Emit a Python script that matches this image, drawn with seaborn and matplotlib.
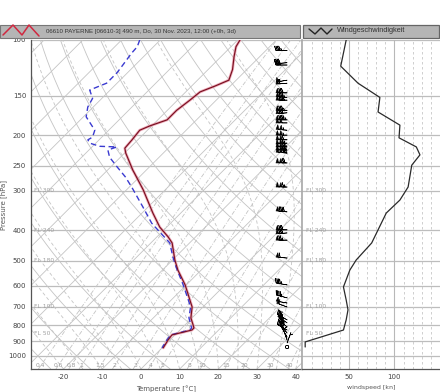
import numpy as np
import pandas as pd
import matplotlib
matplotlib.use("Agg")
import matplotlib.pyplot as plt
import matplotlib.transforms as mtransforms
from matplotlib.patches import Rectangle
from matplotlib.lines import Line2D
from matplotlib.ticker import NullLocator
import seaborn as sns

# ── sounding values ──────────────────────────────────────────────────────────
temp_p = [100, 105, 113, 124, 134, 140, 146, 155, 167, 179, 187, 193, 207, 220,
          228, 258, 298, 353, 391, 420, 439, 497, 535, 596, 665, 700, 758, 798,
          816, 828, 858, 890, 943]
temp_t = [-59.4, -58.7, -56.6, -53.7, -51.9, -54.0, -56.3, -56.8, -57.6, -57.6,
          -60.5, -62.0, -61.5, -61.2, -59.7, -53.5, -45.7, -37.2, -31.8, -27.1,
          -24.5, -19.4, -16.0, -10.3, -5.2, -2.8, -0.3, 2.1, 3.1, 3.1, -0.8,
          -0.5, 0.3]

dew_p = [100, 105, 110, 120, 127, 137, 144, 153, 163, 175, 183, 193, 203, 207,
         212, 217, 218, 223, 235, 252, 271, 292, 338, 380, 439, 486, 525, 596,
         665, 700, 758, 798, 816, 828, 858, 890, 943]
dew_t = [-85.3, -84.2, -84.0, -83.2, -82.7, -82.7, -85.3, -82.4, -81.4, -79.3,
         -76.7, -73.6, -72.4, -72.9, -71.6, -68.2, -63.6, -65.1, -62.8, -58.4,
         -53.7, -49.4, -41.3, -34.9, -25.1, -20.7, -17.1, -10.8, -5.6, -3.2,
         -0.8, 1.5, 2.5, 2.6, -1.1, -0.8, 0.0]

wind_p = [100, 110, 121, 137, 152, 169, 186, 204, 218, 231, 249, 292, 321, 353,
          399, 439, 497, 535, 605, 665, 715, 769, 828, 903, 937]
wind_kn = [47, 44, 41, 60, 84, 82, 106, 105, 124, 128, 119, 115, 106, 91, 82,
           75, 58, 51, 44, 47, 49, 47, 44, 2, 2]

barb_p = [108, 118, 120, 134, 137, 147, 152, 155, 167, 170, 179, 183, 193, 200,
          207, 212, 218, 223, 228, 245, 292, 350, 399, 408, 430, 490, 596, 655,
          680, 700, 769, 786, 810, 828, 846, 871, 890, 910, 937]
barb_kn = [45, 41, 41, 55, 60, 78, 84, 84, 83, 82, 95, 102, 106, 105, 108, 115,
           124, 126, 128, 120, 115, 92, 82, 80, 77, 60, 44, 47, 48, 49, 47, 46,
           45, 44, 30, 15, 8, 3, 2]
barb_dir = [270, 265, 270, 260, 265, 270, 275, 270, 270, 265, 270, 270, 275, 270,
            270, 265, 270, 270, 275, 270, 270, 275, 270, 265, 270, 275, 280, 285,
            280, 290, 300, 305, 310, 300, 320, 330, 340, 20, 60]

p_levels = [100, 150, 200, 250, 300, 400, 500, 600, 700, 800, 900, 1000]
t_ticks = [-20, -10, 0, 10, 20, 30, 40]
fl_p = [300, 400, 500, 700, 850]
fl_text = ["FL 300", "FL 240", "FL 180", "FL 100", "FL 50"]
mix_ratios = [0.4, 0.6, 0.8, 1, 1.5, 2, 3, 4, 5, 8, 10, 15, 20, 30, 40]

title_left = "06610 PAYERNE [06610-3] 490 m, Do, 30 Nov. 2023, 12:00 (+0h, 3d)"
title_right = "Windgeschwindigkeit"

# ── geometry ─────────────────────────────────────────────────────────────────
W, H = 440, 392
P_BOT, P_TOP = 1100, 100
T_MIN, T_MAX = -28.4, 41.6
ax_l, ax_r, ax_t, ax_b = 31, 302, 40, 369

sns.set_theme(style="white")
plt.rcParams["font.family"] = ["DejaVu Sans"]

fig = plt.figure(figsize=(W / 100, H / 100), dpi=100)
ax = fig.add_axes([ax_l / W, (H - ax_b) / H, (ax_r - ax_l) / W, (ax_b - ax_t) / H])
ax2 = fig.add_axes([ax_r / W, (H - ax_b) / H, (W - ax_r) / W, (ax_b - ax_t) / H])

# skew so the isotherms run at 45 degrees
K = ((ax_b - ax_t) / np.log10(P_BOT / P_TOP)) / ((ax_r - ax_l) / (T_MAX - T_MIN))


def skew(t, p):
    return np.asarray(t, dtype=float) + K * np.log10(P_BOT / np.asarray(p, dtype=float))


pp = np.geomspace(P_BOT, P_TOP, 200)
bg = "#c4c4c4"

# isobars
for p in p_levels:
    ax.axhline(p, color="#bdbdbd", lw=0.9, zorder=1)
    ax2.axhline(p, color="#bdbdbd", lw=0.9, zorder=1)

# isotherms
for t in range(-150, 50, 10):
    ax.plot(skew(t, pp), pp, color=bg, lw=0.6, zorder=1)

# dry adiabats
for th in range(-40, 210, 10):
    tt = (th + 273.15) * (pp / 1000.0) ** 0.2857 - 273.15
    ax.plot(skew(tt, pp), pp, color=bg, lw=0.6, zorder=1)


# moist adiabats
def moist(t0):
    Rd, Cp, Lv, eps = 287.04, 1005.7, 2.501e6, 0.622
    T = t0 + 273.15
    out = [T]
    for i in range(1, len(pp)):
        es = 6.112 * np.exp(17.67 * (T - 273.15) / (T - 29.65))
        rs = eps * es / (pp[i - 1] - es)
        dTdp = (Rd * T + Lv * rs) / (pp[i - 1] * (Cp + Lv ** 2 * rs * eps / (Rd * T ** 2)))
        T = T + dTdp * (pp[i] - pp[i - 1])
        out.append(T)
    return np.array(out) - 273.15


for t0 in range(-20, 45, 5):
    ax.plot(skew(moist(t0), pp), pp, color=bg, lw=0.6, ls=(0, (4, 3)), zorder=1)

# mixing ratio lines
for w in mix_ratios:
    e = w * pp / (622.0 + w)
    le = np.log(e / 6.112)
    td = 243.5 * le / (17.67 - le)
    ax.plot(skew(td, pp), pp, color=bg, lw=0.6, ls=(0, (5, 2, 1, 2)), zorder=1)
    e0 = w * 1075 / (622.0 + w)
    l0 = np.log(e0 / 6.112)
    ax.text(skew(243.5 * l0 / (17.67 - l0), 1075), 1075, f"{w:g}", fontsize=4.3,
            color="#9a9a9a", ha="center", va="center", zorder=2)

# flight level labels
for p, s in zip(fl_p, fl_text):
    ax.text(0.01, p, s, fontsize=4.3, color="#a0a0a0", va="center",
            transform=mtransforms.blended_transform_factory(ax.transAxes, ax.transData))
    ax2.text(0.03, p, s, fontsize=4.3, color="#a0a0a0", va="center",
             transform=mtransforms.blended_transform_factory(ax2.transAxes, ax2.transData))

# profiles
temp_df = pd.DataFrame({"x": skew(temp_t, temp_p), "p": temp_p})
dew_df = pd.DataFrame({"x": skew(dew_t, dew_p), "p": dew_p})
sns.lineplot(data=temp_df, x="x", y="p", sort=False, estimator=None, ax=ax,
             color="#e88aa0", lw=2.0, alpha=0.7, zorder=3)
sns.lineplot(data=dew_df, x="x", y="p", sort=False, estimator=None, ax=ax,
             color="#3a3ad0", lw=1.0, ls=(0, (4, 2.5)), zorder=4)
sns.lineplot(data=temp_df, x="x", y="p", sort=False, estimator=None, ax=ax,
             color="#7a1020", lw=0.85, zorder=5)

# wind barbs
spd = np.array(barb_kn, dtype=float)
d = np.deg2rad(barb_dir)
u = -spd * np.sin(d)
v = -spd * np.cos(d)
ax.barbs(np.full(len(barb_p), 0.945), barb_p, u, v, length=4.0, lw=0.45,
         color="black", zorder=6,
         transform=mtransforms.blended_transform_factory(ax.transAxes, ax.transData))

ax.set_yscale("log")
ax.set_ylim(P_BOT, P_TOP)
ax.set_xlim(T_MIN, T_MAX)
ax.set_yticks(p_levels)
ax.set_yticklabels([str(p) for p in p_levels])
ax.yaxis.set_minor_locator(NullLocator())
ax.set_xticks(t_ticks)
ax.set_xticklabels([str(t) for t in t_ticks])
ax.tick_params(labelsize=5, colors="#444", length=2, width=0.6, pad=1.5)
ax.set_xlabel("Temperature [°C]", fontsize=5, color="#555", labelpad=4)
ax.set_ylabel("Pressure [hPa]", fontsize=5, color="#555")
ax.yaxis.set_label_coords(-0.09, 0.5)
for s in ["left", "bottom"]:
    ax.spines[s].set_color("#555")
    ax.spines[s].set_linewidth(0.9)
ax.spines["top"].set_visible(False)
ax.spines["right"].set_color("#aaaaaa")
ax.spines["right"].set_linewidth(0.8)

# wind speed panel
for k in range(10, 150, 10):
    if k % 50:
        ax2.axvline(k, color="#c8c8c8", lw=0.6, ls=(0, (3, 3)), zorder=1)
    else:
        ax2.axvline(k, color="#b8b8b8", lw=0.8, zorder=1)
wind_df = pd.DataFrame({"kn": wind_kn, "p": wind_p})
sns.lineplot(data=wind_df, x="kn", y="p", sort=False, estimator=None, ax=ax2,
             color="#2a2a2a", lw=0.9, zorder=4)
ax2.set_yscale("log")
ax2.set_ylim(P_BOT, P_TOP)
ax2.set_xlim(-1.5, 150)
ax2.yaxis.set_minor_locator(NullLocator())
ax2.set_yticks(p_levels)
ax2.tick_params(axis="y", left=False, labelleft=False)
ax2.set_xticks([50, 100])
ax2.tick_params(axis="x", labelsize=5, colors="#444", length=2, width=0.6, pad=1.5)
ax2.set_xlabel("windspeed [kn]", fontsize=4.5, color="#555", labelpad=4)
ax2.set_ylabel("")
ax2.spines["left"].set_color("#aaaaaa")
ax2.spines["bottom"].set_color("#555")
ax2.spines["bottom"].set_linewidth(0.9)
ax2.spines["top"].set_visible(False)
ax2.spines["right"].set_visible(False)

# title bars
def fy(y):
    return (H - y) / H


fig.patches.append(Rectangle((0, fy(38)), 300 / W, 13 / H, transform=fig.transFigure,
                             facecolor="#b5b5b5", edgecolor="#777", lw=0.8, zorder=10))
fig.patches.append(Rectangle((303 / W, fy(38)), 136 / W, 13 / H, transform=fig.transFigure,
                             facecolor="#b5b5b5", edgecolor="#666", lw=0.9, zorder=10))
zx = np.array([3, 13, 22, 29, 39]) / W
zy = [fy(v) for v in [35, 25, 35, 25, 36]]
fig.lines.append(Line2D(zx, zy, transform=fig.transFigure, color="#d02840", lw=1.1, zorder=11))
zx2 = np.array([309, 315, 321, 327, 332]) / W
zy2 = [fy(v) for v in [29, 34, 28, 34, 29]]
fig.lines.append(Line2D(zx2, zy2, transform=fig.transFigure, color="#222", lw=1.0, zorder=11))
fig.text(46 / W, fy(31.5), title_left, fontsize=4.4, color="#333", va="center",
         family=["Liberation Sans", "DejaVu Sans"], zorder=12)
fig.text(337 / W, fy(31), title_right, fontsize=5.3, color="#333", va="center",
         family=["Liberation Sans", "DejaVu Sans"], zorder=12)

fig.savefig("out.png", dpi=100)
